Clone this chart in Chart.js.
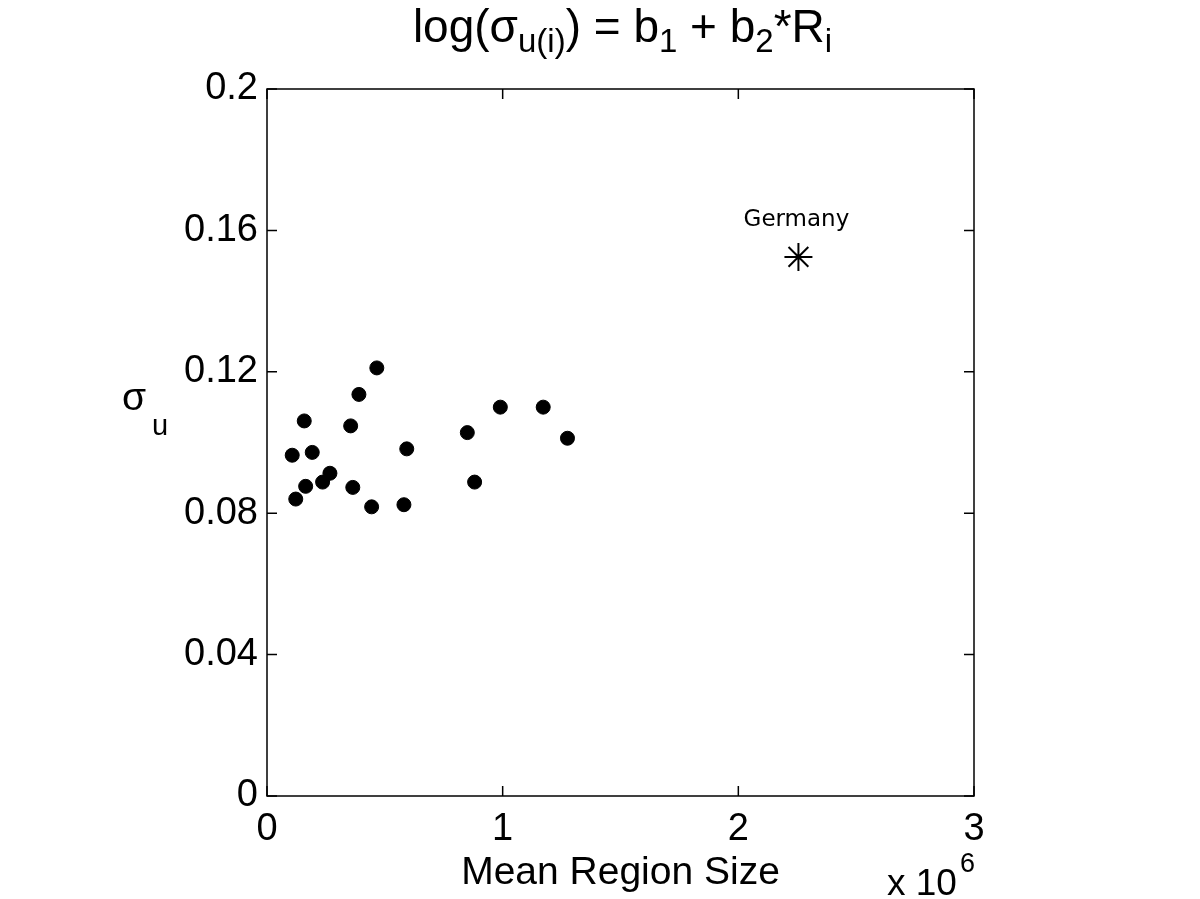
<!DOCTYPE html>
<html>
<head>
<meta charset="utf-8">
<script src="https://cdn.jsdelivr.net/npm/chart.js@4.4.1/dist/chart.umd.min.js"></script>
<style>
  html, body { margin: 0; padding: 0; background: #fff; }
  #wrap { width: 1200px; height: 899px; }
</style>
</head>
<body>
<div id="wrap"><canvas id="sigmaChart" width="1200" height="899"></canvas></div>
<script>
// mean region size (x 10^6) and sigma_u per country
const regionSize = [0.107, 0.122, 0.158, 0.164, 0.192, 0.236, 0.267, 0.355, 0.364, 0.390,
                    0.444, 0.466, 0.581, 0.593, 0.850, 0.881, 0.990, 1.172, 1.275];
const sigmaU = [0.0964, 0.0840, 0.1061, 0.0876, 0.0972, 0.0888, 0.0913, 0.1047, 0.0873, 0.1136,
                0.0818, 0.1211, 0.0824, 0.0982, 0.1028, 0.0888, 0.1100, 0.1100, 0.1012];
const germanySize = [2.255];
const germanySigma = [0.1525];
const germanyLabel = 'Germany';

const xTicks = [0, 1, 2, 3];
const xTickLabels = ['0', '1', '2', '3'];
const yTicks = [0, 0.04, 0.08, 0.12, 0.16, 0.2];
const yTickLabels = ['0', '0.04', '0.08', '0.12', '0.16', '0.2'];

const FONT = '"Liberation Sans", Arial, sans-serif';

// draws a line of text pieces with different sizes / baseline shifts
function drawRuns(ctx, cx, baseY, runs) {
    let total = 0;
    runs.forEach(r => {
        ctx.font = r.size + 'px ' + FONT;
        r.w = ctx.measureText(r.t).width;
        total += r.w;
    });
    let x = cx - total / 2;
    ctx.textAlign = 'left';
    ctx.textBaseline = 'alphabetic';
    runs.forEach(r => {
        ctx.font = r.size + 'px ' + FONT;
        ctx.fillText(r.t, x, baseY + (r.dy || 0));
        x += r.w;
    });
}

const matlabFrame = {
    id: 'matlabFrame',
    afterDatasetsDraw(chart) {
        const ctx = chart.ctx;
        const a = chart.chartArea;
        const xs = chart.scales.x, ys = chart.scales.y;
        ctx.save();
        ctx.strokeStyle = '#000';
        ctx.lineWidth = 1.5;
        ctx.strokeRect(a.left, a.top, a.right - a.left, a.bottom - a.top);
        const tl = 10;
        ctx.beginPath();
        xTicks.forEach(v => {
            const px = xs.getPixelForValue(v);
            ctx.moveTo(px, a.bottom); ctx.lineTo(px, a.bottom - tl);
            ctx.moveTo(px, a.top); ctx.lineTo(px, a.top + tl);
        });
        yTicks.forEach(v => {
            const py = ys.getPixelForValue(v);
            ctx.moveTo(a.left, py); ctx.lineTo(a.left + tl, py);
            ctx.moveTo(a.right, py); ctx.lineTo(a.right - tl, py);
        });
        ctx.stroke();

        ctx.fillStyle = '#000';
        const cx = (a.left + a.right) / 2;
        // title
        drawRuns(ctx, cx + 2, 42, [
            { t: 'log(σ', size: 46 },
            { t: 'u(i)', size: 33, dy: 10 },
            { t: ') = b', size: 46 },
            { t: '1', size: 33, dy: 10 },
            { t: ' + b', size: 46 },
            { t: '2', size: 33, dy: 10 },
            { t: '*R', size: 46 },
            { t: 'i', size: 33, dy: 10 }
        ]);
        // x label
        drawRuns(ctx, cx, 884, [{ t: 'Mean Region Size', size: 39 }]);
        // exponent
        ctx.textAlign = 'left';
        ctx.font = '37px ' + FONT;
        ctx.fillText('x 10', 887, 895);
        ctx.font = '27px ' + FONT;
        ctx.fillText('6', 960, 872);
        // y label
        ctx.font = '39px ' + FONT;
        ctx.fillText('σ', 122, 410);
        ctx.font = '29px ' + FONT;
        ctx.fillText('u', 152, 435);

        // Germany label
        const pt = chart.getDatasetMeta(1).data[0];
        ctx.font = '23px "DejaVu Sans", sans-serif';
        ctx.textAlign = 'center';
        ctx.fillText(germanyLabel, pt.x - 2, pt.y - 31);
        ctx.restore();
    }
};

const ctx = document.getElementById('sigmaChart').getContext('2d');

const data = {
    datasets: [{
        label: 'Countries',
        data: regionSize.map((x, i) => ({ x: x, y: sigmaU[i] })),
        backgroundColor: '#000',
        borderColor: '#000',
        pointRadius: 7,
        pointHoverRadius: 7
    }, {
        label: 'Germany',
        data: germanySize.map((x, i) => ({ x: x, y: germanySigma[i] })),
        pointStyle: 'star',
        backgroundColor: '#000',
        borderColor: '#000',
        borderWidth: 2,
        pointRadius: 14,
        pointHoverRadius: 14
    }]
};

const config = {
    type: 'scatter',
    data: data,
    options: {
        responsive: false,
        animation: false,
        layout: { padding: { top: 89, right: 226, bottom: 0, left: 0 } },
        plugins: {
            legend: { display: false },
            tooltip: { enabled: false },
            title: { display: false }
        },
        scales: {
            x: {
                min: 0,
                max: 3,
                afterFit: s => { s.height = 103; },
                afterBuildTicks: s => { s.ticks = xTicks.map(v => ({ value: v })); },
                grid: { display: false, drawTicks: false },
                border: { display: false },
                ticks: {
                    padding: 11,
                    color: '#000',
                    font: { family: FONT, size: 38 },
                    maxRotation: 0,
                    autoSkip: false,
                    callback: (v, i) => xTickLabels[i]
                }
            },
            y: {
                min: 0,
                max: 0.2,
                afterFit: s => { s.width = 267; },
                afterBuildTicks: s => { s.ticks = yTicks.map(v => ({ value: v })); },
                grid: { display: false, drawTicks: false },
                border: { display: false },
                ticks: {
                    padding: 9,
                    color: '#000',
                    font: { family: FONT, size: 38 },
                    autoSkip: false,
                    callback: (v, i) => yTickLabels[i]
                }
            }
        }
    },
    plugins: [matlabFrame]
};

const sigmaChart = new Chart(ctx, config);
</script>
</body>
</html>
